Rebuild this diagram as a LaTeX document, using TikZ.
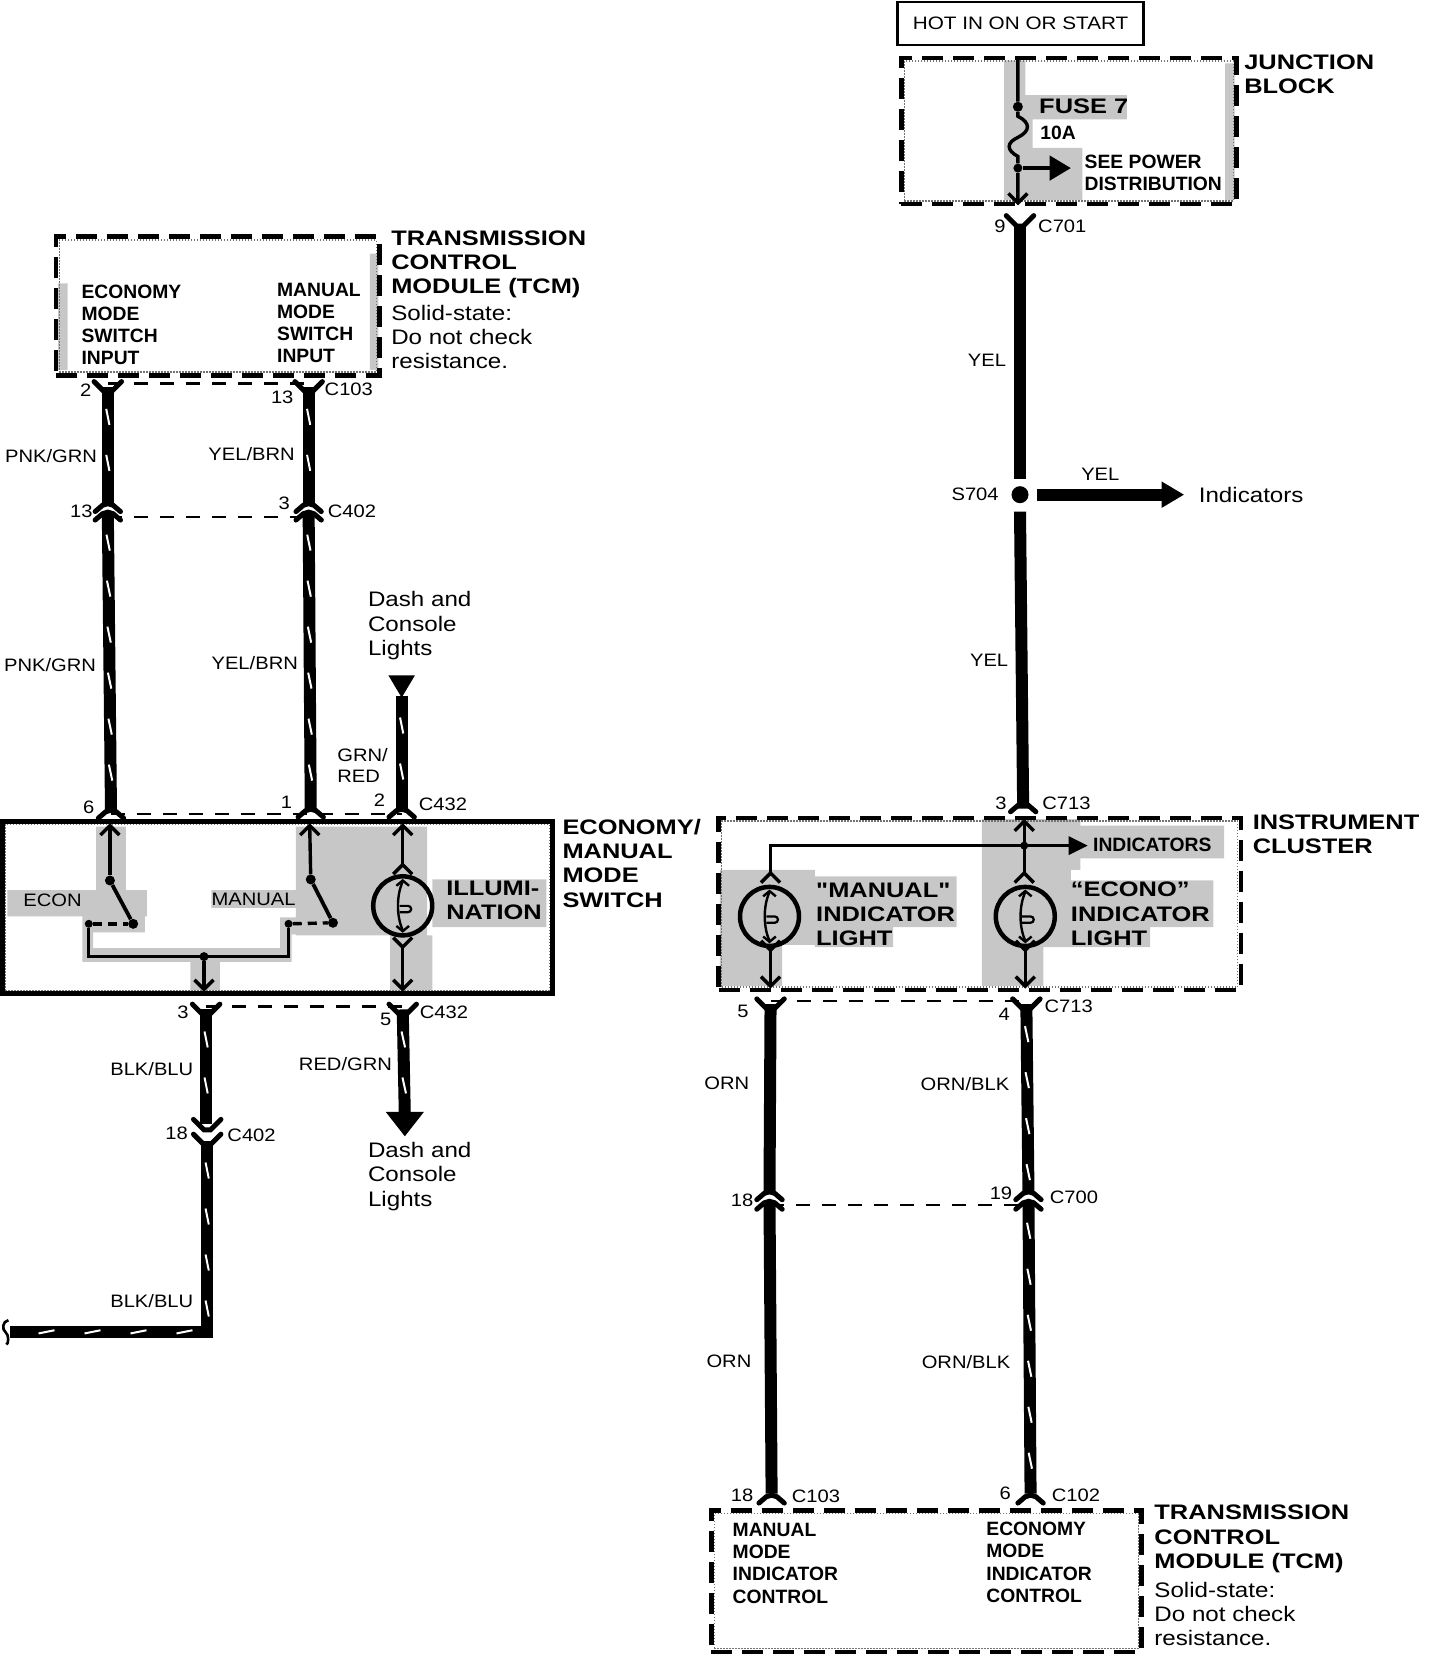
\documentclass[tikz,border=0pt]{standalone}
\usepackage{fontspec}
\usetikzlibrary{calc,decorations.markings}
\newfontfamily\headfam{Liberation Sans Bold}[FakeStretch=1.21]
\newfontfamily\bodyfam{Liberation Sans}[FakeStretch=1.15]
\newfontfamily\lblfam{Liberation Sans}[FakeStretch=1.12]
\newfontfamily\boldfam{Liberation Sans Bold}

\begin{document}
\begin{tikzpicture}[x=1.057pt,y=-1.057pt]
	\tikzset{headlbl/.style = {font=\headfam\fontsize{21}{24.3}\selectfont,align=left,anchor=west,inner sep=0pt}}
	\tikzset{bodylbl/.style = {font=\bodyfam\fontsize{21}{24.3}\selectfont,align=left,anchor=west,inner sep=0pt}}
	\tikzset{boldlbl/.style = {font=\boldfam\fontsize{19.3}{22.2}\selectfont,align=left,anchor=west,inner sep=0pt}}
	\tikzset{wirelbl/.style = {font=\lblfam\fontsize{18}{21}\selectfont,align=left,inner sep=0pt}}
	\tikzset{stip/.style = {fill=black!22}}
	\tikzset{stipedge/.style = {draw=black!55,line width=1.2pt,dash pattern=on 1.5pt off 1.5pt,inner sep=0pt,outer sep=0pt}}
	\tikzset{modbox/.style = {draw,line width=4.6pt,dash pattern=on 21pt off 10pt,inner sep=0pt,outer sep=0pt}}
	\tikzset{solidbox/.style = {draw,line width=5pt,inner sep=0pt,outer sep=0pt}}
	\tikzset{wire/.style = {line width=12pt}}
	\tikzset{tickwire/.style = {wire,postaction={decorate,decoration={markings,mark=between positions 30pt and -15pt step 46pt with {\draw[white,line width=2pt] (-8pt,-1.6pt) -- (8pt,1.6pt);}}}}}
	\tikzset{thinwire/.style = {line width=3.4pt}}
	\tikzset{pinrule/.style = {line width=2.6pt,dash pattern=on 14pt off 12pt}}
	\tikzset{forkline/.style = {line width=5pt,line cap=round}}
	\tikzset{dotnode/.style = {circle,fill=black,inner sep=0pt,minimum size=10pt}}
	\tikzset{bulb/.style = {circle,draw,line width=4.5pt,inner sep=0pt,minimum size=59pt}}
	\tikzset{forkup/.pic = {\draw[forkline] (-12,6) -- (-5,0) -- (0,-1.5) -- (5,0) -- (12,6);}}
	\tikzset{forkdown/.pic = {\draw[forkline] (-13,-7) -- (-3,3) -- (3,3) -- (13,-7);}}
	\tikzset{chevup/.pic = {\draw[thinwire] (-9,9) -- (0,0) -- (9,9);}}
	\tikzset{chevdown/.pic = {\draw[thinwire] (-9,-9) -- (0,0) -- (9,-9);}}
	\tikzset{filament/.pic = {
		\draw[line width=2.4pt] (0,-23) .. controls (-6,-10) and (-6,10) .. (0,23);
		\draw[line width=2.4pt] (-6,-19) -- (0,-24) -- (6,-19) (-6,19) -- (0,24) -- (6,19);
		\draw[line width=2.2pt] (-3,0) -- (5,0) arc (-90:90:3) -- (-3,6);
	}}

	\useasboundingbox (0,0) rectangle (1362.4,1566.7);

	% shading
	\fill[stip] (91,782) rectangle (119,842) (7,842) rectangle (139,867) (78,867) rectangle (137,882)
		(280,782) rectangle (404,885) (200,842) rectangle (280,859) (267,868) rectangle (356,884)
		(369,885) rectangle (409,937) (409,832) rectangle (517,877)
		(78,897) rectangle (276,910) (78,867) rectangle (88,910) (265,868) rectangle (276,910) (180,910) rectangle (208,937);
	\fill[stip] (950,57) rectangle (970,189) (968,90) rectangle (1066,113) (968,113) rectangle (977,140) (968,140) rectangle (1024,189) (1159,60) rectangle (1168,189);
	\fill[stip] (681,823) rectangle (771,894) (771,829) rectangle (905,877) (771,877) rectangle (845,896) (681,894) rectangle (740,933)
		(929,775) rectangle (1022,823) (1022,781) rectangle (1158,812) (929,823) rectangle (1013,896)
		(1013,833) rectangle (1148,877) (1013,877) rectangle (1088,896) (929,896) rectangle (987,933);
	\fill[stip] (55,268) rectangle (64,350) (350,240) rectangle (358,350);

	% boxes
	\node[stipedge,minimum width=317pt,minimum height=132pt] (tcmaedge) at (206,289.5) {};
	\node[stipedge,minimum width=544pt,minimum height=166pt] (switchedge) at (262.5,858.5) {};
	\node[stipedge,minimum width=329pt,minimum height=140pt] (juncedge) at (1011.3,124) {};
	\node[stipedge,minimum width=516pt,minimum height=166pt] (instedge) at (927,855.3) {};
	\node[stipedge,minimum width=424pt,minimum height=135pt] (tcmbedge) at (876.5,1496) {};
	\node[modbox,minimum width=323.4pt,minimum height=138.5pt] (tcma) at (206,289.5) {};
	\node[solidbox,minimum width=550.7pt,minimum height=172.3pt] (switch) at (262.5,858.5) {};
	\node[draw,line width=2.6pt,inner sep=0pt,minimum width=246.3pt,minimum height=43pt] (hotbox) at (965.5,22.3) {};
	\node[modbox,minimum width=335.5pt,minimum height=145.9pt] (junc) at (1011.3,124) {};
	\node[modbox,minimum width=522.2pt,minimum height=172pt] (inst) at (927,855.3) {};
	\node[modbox,minimum width=430.2pt,minimum height=141.6pt] (tcmb) at (876.5,1496) {};

	% end points
	\coordinate (pa) at (102,366); \coordinate (pb) at (102,476);
	\coordinate (pc) at (102,485); \coordinate (pd) at (105,766);
	\coordinate (ya) at (292,366); \coordinate (yb) at (292,476);
	\coordinate (yc) at (292,485); \coordinate (yd) at (294,766);
	\coordinate (ga) at (380,658); \coordinate (gb) at (380,766);
	\coordinate (ka) at (195,955); \coordinate (kb) at (195,1063);
	\coordinate (kc) at (196,1079); \coordinate (kd) at (196,1260); \coordinate (ke) at (9,1260);
	\coordinate (ra) at (381,955); \coordinate (rb) at (383,1056);
	\coordinate (va) at (965,212); \coordinate (vb) at (965,453);
	\coordinate (vc) at (965,484); \coordinate (vd) at (968,765);
	\coordinate (vda) at (981,468); \coordinate (vdb) at (1100,468);
	\coordinate (oa) at (729,950); \coordinate (ob) at (728,1127);
	\coordinate (oc) at (728,1136); \coordinate (od) at (730,1413);
	\coordinate (ba) at (971,950); \coordinate (bb) at (973,1127);
	\coordinate (bc) at (973,1136); \coordinate (bd) at (975,1413);

	% harness
	\draw[tickwire] (pa) -- (pb);
	\draw[tickwire] (pc) -- (pd);
	\draw[tickwire] (ya) -- (yb);
	\draw[tickwire] (yc) -- (yd);
	\draw[tickwire] (ga) -- (gb);
	\draw[tickwire] (ka) -- (kb);
	\draw[tickwire] (kc) -- (kd) -- (ke);
	\draw[tickwire] (ra) -- (rb);
	\draw[wire] (va) -- (vb);
	\draw[wire] (vc) -- (vd);
	\draw[wire] (vda) -- (vdb);
	\draw[wire] (oa) -- (ob);
	\draw[wire] (oc) -- (od);
	\draw[tickwire] (ba) -- (bb);
	\draw[tickwire] (bc) -- (bd);

	% arrow heads
	\coordinate (gtip) at (380,660); \fill (gtip) -- ++(-12.5,-21) -- ++(25,0) -- cycle;
	\coordinate (rtip) at (383,1075); \fill (rtip) -- ++(-18,-23) -- ++(36,0) -- cycle;
	\coordinate (vtip) at (1120,468); \fill (vtip) -- ++(-21,-12.5) -- ++(0,25) -- cycle;

	% connector rules
	\draw[pinrule] (pa) ++(0,-3) -- ($(ya)+(0,-3)$);
	\draw[pinrule] (pb) ++(0,13) -- ($(yb)+(0,13)$);
	\draw[pinrule] (pd) ++(0,4) -- ($(gb)+(0,4)$);
	\draw[pinrule] (ka) ++(0,-3) -- ($(ra)+(0,-3)$);
	\draw[pinrule] (oa) ++(0,-3) -- ($(ba)+(0,-3)$);
	\draw[pinrule] (ob) ++(0,13) -- ($(bb)+(0,13)$);

	% connector forks
	\pic at (102,368) {forkdown};
	\pic at (292,368) {forkdown};
	\pic at (102,478) {forkup};
	\pic at (102,486) {forkup};
	\pic at (292,478) {forkup};
	\pic at (292,486) {forkup};
	\pic at (105,768) {forkup};
	\pic at (294,767) {forkup};
	\pic at (380,767) {forkup};
	\pic at (195,957) {forkdown};
	\pic at (381,957) {forkdown};
	\pic at (196,1066) {forkdown};
	\pic at (196,1080) {forkdown};
	\pic at (965,211) {forkdown};
	\pic at (968,762) {forkup};
	\pic at (729,952) {forkdown};
	\pic at (971,952) {forkdown};
	\pic at (728,1129) {forkup};
	\pic at (728,1138) {forkup};
	\pic at (973,1129) {forkup};
	\pic at (973,1138) {forkup};
	\pic at (730,1416) {forkup};
	\pic at (975,1416) {forkup};

	% switch
	\node[dotnode] (econa) at (104,833) {};
	\node[dotnode] (econb) at (126,874) {};
	\node[dotnode,minimum size=8pt] (econc) at (84,874) {};
	\node[dotnode] (mana) at (294,832) {};
	\node[dotnode] (manb) at (315,873) {};
	\node[dotnode,minimum size=8pt] (manc) at (273,874) {};
	\node[dotnode,minimum size=9pt] (swjoin) at (193,905) {};
	\coordinate (etop) at (104,781); \coordinate (mtop) at (293,781); \coordinate (ltop) at (381,781);
	\coordinate (sbot) at (193,936); \coordinate (lbot) at (381,936);
	\coordinate (elow) at (84,905); \coordinate (mlow) at (273,905);
	\draw[thinwire] (etop) -- (econa);
	\draw[thinwire] (mtop) -- (mana);
	\draw[line width=3.8pt] (econa) -- (econb);
	\draw[line width=3.8pt] (mana) -- (manb);
	\draw[thinwire,dash pattern=on 9pt off 6pt] (econc) -- (econb);
	\draw[thinwire,dash pattern=on 9pt off 6pt] (manc) -- (manb);
	\draw[thinwire] (econc) -- (elow) -- (mlow) -- (manc);
	\draw[thinwire] (swjoin) -- (sbot);
	\pic at (etop) {chevup};
	\pic at (mtop) {chevup};
	\pic at (ltop) {chevup};
	\pic at (sbot) {chevdown};
	\pic at (lbot) {chevdown};
	\node[bulb] (illum) at (381,857) {};
	\pic at (illum) {filament};
	\coordinate (lupa) at (381,818); \coordinate (llow) at (381,896);
	\draw[thinwire] (ltop) -- (lupa);
	\draw[thinwire] (llow) -- (lbot);
	\pic at (lupa) {chevup};
	\pic at (llow) {chevdown};

	% junction block
	\coordinate (jtop) at (963,56); \coordinate (jbot) at (963,192); \coordinate (jout) at (1000,159);
	\node[dotnode] (fusea) at (963,101) {};
	\node[dotnode,minimum size=9pt] (fuseb) at (963,159) {};
	\draw[thinwire] (jtop) -- (fusea) -- (963,110) .. controls (975,116) and (975,124) .. (963,130) .. controls (952,135) and (952,142) .. (963,148) -- (fuseb) -- (jbot);
	\pic at (jbot) {chevdown};
	\draw[thinwire] (fuseb) -- (jout);
	\coordinate (jtip) at (1013,159); \fill (jtip) -- ++(-20,-12) -- ++(0,24) -- cycle;

	% splice
	\node[dotnode,minimum size=17pt] (splice) at (965,468) {};

	% instrument cluster
	\node[dotnode,minimum size=8pt] (indjoin) at (969,800) {};
	\coordinate (itop) at (969,777); \coordinate (ileft) at (729,800); \coordinate (idown) at (729,826);
	\coordinate (eup) at (969,826); \coordinate (iout) at (1012,800);
	\coordinate (mlo) at (729,899); \coordinate (mbot) at (729,933);
	\coordinate (elo) at (970,899); \coordinate (ebot) at (970,933);
	\draw[thinwire] (itop) -- (eup);
	\draw[thinwire] (idown) -- (ileft) -- (iout);
	\fill (1029,800) -- ++(-18,-9) -- ++(0,18) -- cycle;
	\draw[thinwire] (mlo) -- (mbot);
	\draw[thinwire] (elo) -- (ebot);
	\pic at (itop) {chevup};
	\pic at (idown) {chevup};
	\pic at (eup) {chevup};
	\pic at (mlo) {chevdown};
	\pic at (elo) {chevdown};
	\pic at (mbot) {chevdown};
	\pic at (ebot) {chevdown};
	\node[bulb] (manlamp) at (728,867) {};
	\node[bulb] (econlamp) at (970,867) {};
	\pic at (manlamp) {filament};
	\pic at (econlamp) {filament};

	% module labels
	\node[headlbl] (tcmatxt) at (370,250) {TRANSMISSION\\CONTROL\\MODULE (TCM)};
	\node[bodylbl] (tcmanote) at (370,319) {Solid-state:\\Do not check\\resistance.};
	\node[headlbl] (juncres) at (1177,70.5) {JUNCTION\\BLOCK};
	\node[headlbl] (switchtxt) at (532,816.5) {ECONOMY/\\MANUAL\\MODE\\SWITCH};
	\node[headlbl] (insttxt) at (1185,789.5) {INSTRUMENT\\CLUSTER};
	\node[headlbl] (tcmbtxt) at (1092,1456) {TRANSMISSION\\CONTROL\\MODULE (TCM)};
	\node[bodylbl] (tcmbnote) at (1092,1527) {Solid-state:\\Do not check\\resistance.};
	\node[headlbl] (illumtxt) at (422,852) {ILLUMI-\\NATION};
	\node[headlbl] (mantxt) at (772,865) {"MANUAL"\\INDICATOR\\LIGHT};
	\node[headlbl] (econtxt) at (1013,864.5) {“ECONO”\\INDICATOR\\LIGHT};
	\node[headlbl] (fusetxt) at (983,101) {FUSE 7};
	\node[wirelbl,font=\bodyfam\fontsize{18}{21}\selectfont,anchor=center] (hottxt) at (965.5,22) {HOT IN ON OR START};

	% input names
	\node[boldlbl] (ineco) at (77,307.5) {ECONOMY\\MODE\\SWITCH\\INPUT};
	\node[boldlbl] (inman) at (262,305.5) {MANUAL\\MODE\\SWITCH\\INPUT};
	\node[boldlbl] (ctlman) at (693,1479) {MANUAL\\MODE\\INDICATOR\\CONTROL};
	\node[boldlbl] (ctleco) at (933,1478) {ECONOMY\\MODE\\INDICATOR\\CONTROL};
	\node[boldlbl] (fuseamp) at (984,126) {10A};
	\node[boldlbl] (seepow) at (1026,163.5) {SEE POWER\\DISTRIBUTION};
	\node[boldlbl] (indtxt) at (1034,799) {INDICATORS};
	\node[wirelbl,anchor=west] (econtag) at (22,852) {ECON};
	\node[wirelbl,anchor=west] (mantag) at (200,851) {MANUAL};

	% wire colours
	\node[wirelbl,anchor=east] (lpnka) at (92,431) {PNK/GRN};
	\node[wirelbl,anchor=east] (lpnkb) at (91,629) {PNK/GRN};
	\node[wirelbl,anchor=east] (lyela) at (279,430) {YEL/BRN};
	\node[wirelbl,anchor=east] (lyelb) at (282,627) {YEL/BRN};
	\node[wirelbl,anchor=west] (lgrn) at (319,724) {GRN/\\RED};
	\node[wirelbl,anchor=east] (lblka) at (183,1011) {BLK/BLU};
	\node[wirelbl,anchor=east] (lblkb) at (183,1231) {BLK/BLU};
	\node[wirelbl,anchor=east] (lred) at (371,1007) {RED/GRN};
	\node[wirelbl,anchor=east] (lvya) at (952,341) {YEL};
	\node[wirelbl,anchor=east] (lvyb) at (954,625) {YEL};
	\node[wirelbl] (lvyc) at (1041,449) {YEL};
	\node[wirelbl,anchor=east] (lorna) at (709,1025) {ORN};
	\node[wirelbl,anchor=east] (lornb) at (711,1288) {ORN};
	\node[wirelbl,anchor=east] (lobka) at (955,1026) {ORN/BLK};
	\node[wirelbl,anchor=east] (lobkb) at (956,1289) {ORN/BLK};
	\node[wirelbl,anchor=east] (lsplice) at (945,468) {S704};

	% destinations
	\node[bodylbl] (dasha) at (348,592) {Dash and\\Console\\Lights};
	\node[bodylbl] (dashb) at (348,1113) {Dash and\\Console\\Lights};
	\node[bodylbl] (indres) at (1134,468) {Indicators};

	% connector names
	\foreach \nm/\px/\py/\txt in {na/81/369/2,nb/267/376/13,nc/77/484/13,nd/269/476/3,ne/84/764/6,nf/271/759/1,ng/359/757/2,nh/173/958/3,ni/365/964/5,nj/167/1072/18,nk/946/214/9,nl/947/760/3,nm/703/957/5,nn/950/960/4,no/702/1136/18,np/947/1129/19,nq/702/1415/18,nr/951/1413/6}
		\node[wirelbl] (\nm) at (\px,\py) {\txt};
	\foreach \nm/\px/\py/\txt in {ca/330/368/C103,cb/333/484/C402,cc/419/761/C432,cd/420/958/C432,ce/238/1074/C402,cf/1005/214/C701,cg/1009/760/C713,ch/1011/952/C713,ci/1016/1133/C700,cj/772/1416/C103,ck/1018/1415/C102}
		\node[wirelbl] (\nm) at (\px,\py) {\txt};

	% break mark
	\coordinate (brka) at (8,1249); \coordinate (brkb) at (6,1272);
	\draw[line width=2.6pt] (brka) .. controls (2,1250) and (2,1258) .. (5,1260) .. controls (9,1263) and (8,1272) .. (brkb);
\end{tikzpicture}
\end{document}
